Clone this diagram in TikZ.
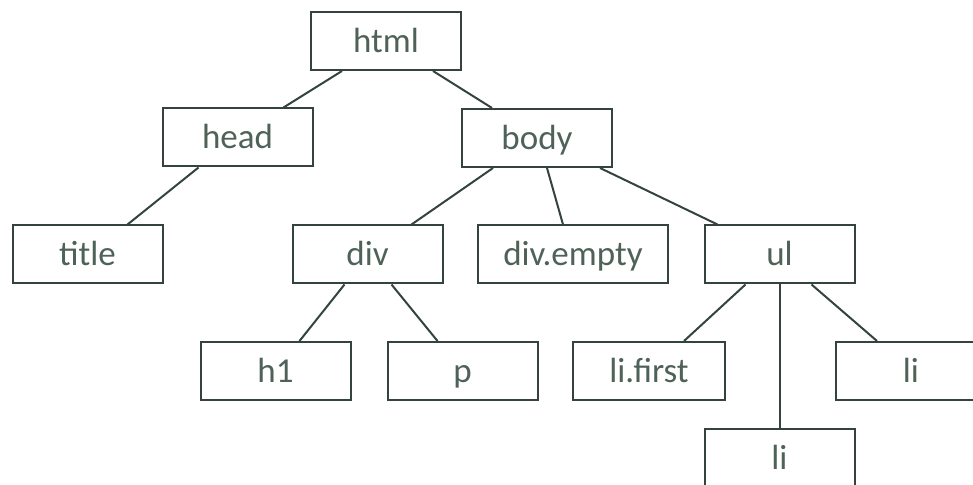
\documentclass[tikz,border=0pt]{standalone}
\usepackage{fontspec}
\setmainfont{Carlito}
\usepackage{tikz}
\usetikzlibrary{positioning}
\definecolor{boxline}{RGB}{52,68,60}
\definecolor{boxtext}{RGB}{78,98,88}

\begin{document}
\begin{tikzpicture}[
        x=0.5pt, y=-0.5pt,
        tag/.style={
          rectangle,
          draw=boxline,
          line width=1pt,
          text=boxtext,
          font=\fontsize{17.5}{20}\selectfont,
          text height=15.5pt,
          text depth=4pt,
          minimum width=75pt,
          minimum height=29pt,
          inner sep=0pt
        },
        widetag/.style={tag, minimum width=95pt},
        link/.style={draw=boxline, line width=1pt}
    ]
    \useasboundingbox (0,0) rectangle (973,485);

    % Define the nodes
    \node[tag] (html) at (386,41) {html};
    \node[tag] (head) at (237.5,137.5) {head};
    \node[tag] (body) at (537,138) {body};
    \node[tag] (title) at (87.5,254.5) {title};
    \node[tag] (div) at (367.5,254.5) {div};
    \node[widetag] (divempty) at (573,254.5) {div.empty};
    \node[tag] (ul) at (779.5,254.5) {ul};
    \node[tag] (h1) at (275.5,371) {h1};
    \node[tag, right=17.5pt of h1] (p) {p};
    \node[tag, minimum width=76pt] (lifirst) at (649,371) {li.first};
    \node[tag] (lilast) at (911,371) {li};
    \node[tag] (limid) at (779.5,458) {li};

    % Connect the nodes
    \draw[link] ([xshift=-22pt]html.south) -- ([xshift=23pt]head.north);
    \draw[link] ([xshift=23.5pt]html.south) -- ([xshift=-22.5pt]body.north);
    \draw[link] ([xshift=-19.5pt]head.south) -- ([xshift=20pt]title.north);
    \draw[link] ([xshift=-22pt]body.south) -- ([xshift=22pt]div.north);
    \draw[link] ([xshift=5pt]body.south) -- ([xshift=-5pt]divempty.north);
    \draw[link] ([xshift=31.5pt]body.south) -- ([xshift=-31pt]ul.north);
    \draw[link] ([xshift=-11.5pt]div.south) -- ([xshift=12pt]h1.north);
    \draw[link] ([xshift=12pt]div.south) -- ([xshift=-12.5pt]p.north);
    \draw[link] ([xshift=-17pt]ul.south) -- ([xshift=17.5pt]lifirst.north);
    \draw[link] (ul.south) -- (limid.north);
    \draw[link] ([xshift=16pt]ul.south) -- ([xshift=-17pt]lilast.north);

\end{tikzpicture}
\end{document}
